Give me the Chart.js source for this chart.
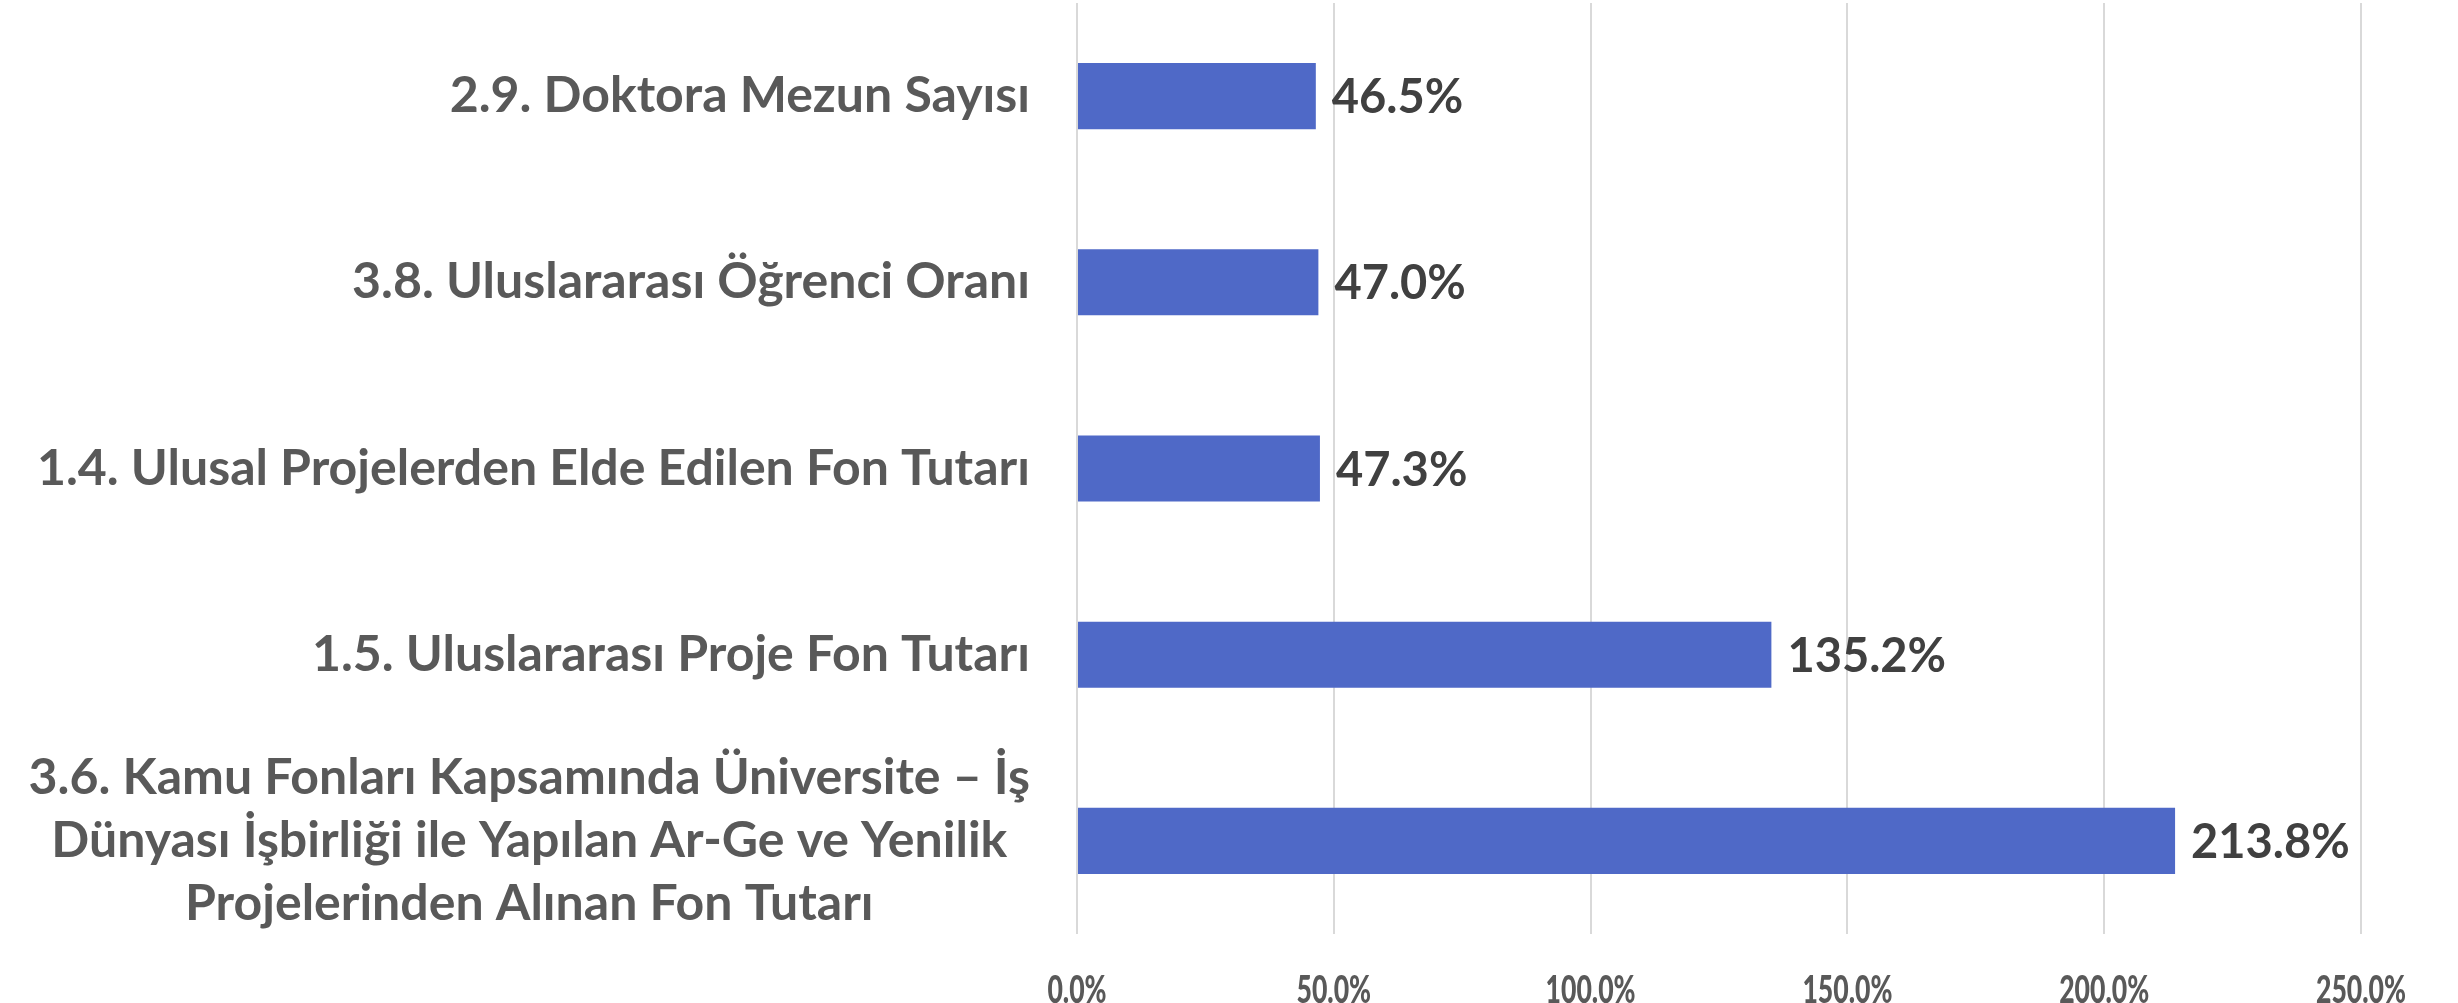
<!DOCTYPE html>
<html>
<head>
<meta charset="utf-8">
<script src="https://cdn.jsdelivr.net/npm/chart.js@4.4.1/dist/chart.umd.min.js"></script>
<style>
  html, body { margin: 0; padding: 0; background: #ffffff; }
  #wrap { width: 2458px; height: 1003px; position: relative; }
</style>
</head>
<body>
<div id="wrap"><canvas id="c" width="2458" height="1003"></canvas></div>
<script>
const categories = [
  ["2.9. Doktora Mezun Sayısı"],
  ["3.8. Uluslararası Öğrenci Oranı"],
  ["1.4. Ulusal Projelerden Elde Edilen Fon Tutarı"],
  ["1.5. Uluslararası Proje Fon Tutarı"],
  ["3.6. Kamu Fonları Kapsamında Üniversite – İş", "Dünyası İşbirliği ile Yapılan Ar-Ge ve Yenilik", "Projelerinden Alınan Fon Tutarı"]
];
const values = [46.5, 47.0, 47.3, 135.2, 213.8];
const xTickMin = 0;
const xTickMax = 250;
const xTickStep = 50;

const FONT = "Lato, 'Open Sans', sans-serif";
const BAR_COLOR = "#4F69C7";
const LABEL_COLOR = "#595959";
const VALUE_COLOR = "#404040";

const labelPlugin = {
  id: 'customLabels',
  afterDatasetsDraw(chart) {
    const ctx = chart.ctx;
    const yScale = chart.scales.y;
    const xScale = chart.scales.x;
    const meta = chart.getDatasetMeta(0);
    ctx.save();
    // category labels
    ctx.font = "bold 50px " + FONT;
    ctx.fillStyle = LABEL_COLOR;
    ctx.textBaseline = 'middle';
    const rightEdge = chart.chartArea.left - 47;
    const lineH = 63;
    categories.forEach((lines, i) => {
      const yc = yScale.getPixelForValue(i);
      if (lines.length === 1) {
        ctx.textAlign = 'right';
        ctx.fillText(lines[0], rightEdge, yc);
      } else {
        const maxW = Math.max(...lines.map(l => ctx.measureText(l).width));
        const cx = rightEdge - maxW / 2;
        ctx.textAlign = 'center';
        lines.forEach((l, j) => {
          const y = yc + (j - (lines.length - 1) / 2) * lineH;
          ctx.fillText(l, cx, y);
        });
      }
    });
    // value labels
    ctx.font = "bold 47px " + FONT;
    ctx.fillStyle = VALUE_COLOR;
    ctx.textAlign = 'left';
    meta.data.forEach((bar, i) => {
      ctx.fillText(values[i].toFixed(1) + '%', bar.x + 16, bar.y + 2);
    });
    // x tick labels (condensed)
    ctx.font = "900 38px " + FONT;
    ctx.fillStyle = LABEL_COLOR;
    ctx.textAlign = 'center';
    ctx.textBaseline = 'middle';
    const sx = 0.7;
    const ty = chart.chartArea.bottom + 57;
    xScale.ticks.forEach(t => {
      const px = xScale.getPixelForValue(t.value);
      ctx.save();
      ctx.translate(px, ty);
      ctx.scale(sx, 1);
      ctx.fillText(t.value.toFixed(1) + '%', 0, 0);
      ctx.restore();
    });
    ctx.restore();
  }
};

new Chart(document.getElementById('c'), {
  type: 'bar',
  data: {
    labels: categories.map(c => c.join(' ')),
    datasets: [{
      data: values,
      backgroundColor: BAR_COLOR,
      borderWidth: 0,
      barPercentage: 0.355,
      categoryPercentage: 1.0
    }]
  },
  options: {
    indexAxis: 'y',
    responsive: false,
    animation: false,
    devicePixelRatio: 1,
    layout: { padding: { top: 3, right: 97, left: 0, bottom: 0 } },
    plugins: { legend: { display: false }, tooltip: { enabled: false } },
    scales: {
      x: {
        min: xTickMin,
        max: xTickMax,
        ticks: {
          stepSize: xTickStep,
          display: false
        },
        grid: { color: '#D9D9D9', lineWidth: 2, drawTicks: false },
        border: { display: false },
        afterFit(scale) { scale.height = 69; }
      },
      y: {
        ticks: { display: false },
        grid: { display: false },
        border: { display: false },
        afterFit(scale) { scale.width = 1077; }
      }
    }
  },
  plugins: [labelPlugin]
});
</script>
</body>
</html>
